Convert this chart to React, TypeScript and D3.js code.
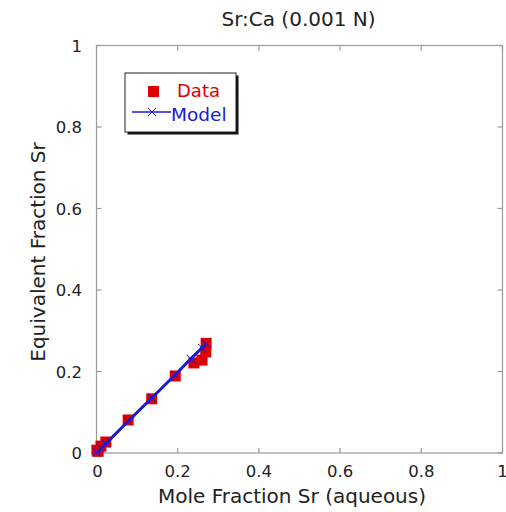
import React from "react";
import * as d3 from "d3";

const dataX = [0.001, 0.004, 0.011, 0.023, 0.078, 0.136, 0.194, 0.24, 0.26, 0.269, 0.27];
const dataY = [0.007, 0.004, 0.017, 0.027, 0.081, 0.133, 0.189, 0.221, 0.228, 0.248, 0.269];
const modelX = [0, 0.011, 0.023, 0.078, 0.136, 0.194, 0.232, 0.26, 0.27];
const modelY = [0.001, 0.011, 0.023, 0.078, 0.135, 0.192, 0.231, 0.258, 0.268];
const ticks = [0, 0.2, 0.4, 0.6, 0.8, 1];
const tickLabels = ["0", "0.2", "0.4", "0.6", "0.8", "1"];
const title = "Sr:Ca (0.001 N)";
const xLabel = "Mole Fraction Sr (aqueous)";
const yLabel = "Equivalent Fraction Sr";
const legendLabels = ["Data", "Model"];

const W = 506;
const H = 512;
const L = 96.5, R = 502.5, T = 45.5, B = 453;
const font = "'DejaVu Sans', sans-serif";
const RED = "#dd0000";
const BLUE = "#1a1ad6";
const FRAME = "#9a9a9a";

export default function App() {
  const x = d3.scaleLinear().domain([0, 1]).range([L, R]);
  const y = d3.scaleLinear().domain([0, 1]).range([B, T]);
  const line = d3
    .line<number>()
    .x((_, i) => x(modelX[i]))
    .y((_, i) => y(modelY[i]));
  const tl = 5;
  const sq = 11;
  return (
    <svg
      width={W}
      height={H}
      style={{ position: "absolute", left: 0, top: 0, background: "#fff" }}
      fontFamily={font}
    >
      <rect x={0} y={0} width={W} height={H} fill="#fff" />
      <text x={298.5} y={26} textAnchor="middle" fontSize={20} fill="#222">
        {title}
      </text>
      {/* frame */}
      <rect x={L} y={T} width={R - L} height={B - T} fill="none" stroke={FRAME} strokeWidth={1.2} />
      {ticks.map((t, i) => (
        <g key={"t" + i}>
          <line x1={x(t)} x2={x(t)} y1={B} y2={B - tl} stroke={FRAME} strokeWidth={1.2} />
          <line x1={x(t)} x2={x(t)} y1={T} y2={T + tl} stroke={FRAME} strokeWidth={1.2} />
          <line x1={L} x2={L + tl} y1={y(t)} y2={y(t)} stroke={FRAME} strokeWidth={1.2} />
          <line x1={R} x2={R - tl} y1={y(t)} y2={y(t)} stroke={FRAME} strokeWidth={1.2} />
          <text x={x(t) + (i === 0 ? 1 : 0)} y={477} textAnchor="middle" fontSize={16.5} fill="#222">
            {tickLabels[i]}
          </text>
          <text x={82} y={y(t) + 6} textAnchor="end" fontSize={16.5} fill="#222">
            {tickLabels[i]}
          </text>
        </g>
      ))}
      <text x={292} y={503} textAnchor="middle" fontSize={20} fill="#222">
        {xLabel}
      </text>
      <text
        transform={`translate(45, 252) rotate(-90)`}
        textAnchor="middle"
        fontSize={20}
        fill="#222"
      >
        {yLabel}
      </text>
      {/* data */}
      {dataX.map((v, i) => (
        <rect
          key={"d" + i}
          x={x(v) - sq / 2}
          y={y(dataY[i]) - sq / 2}
          width={sq}
          height={sq}
          fill={RED}
        />
      ))}
      {/* model */}
      <path d={line(modelX) || ""} fill="none" stroke={BLUE} strokeWidth={3} />
      {modelX.map((v, i) => (
        <g key={"m" + i} stroke={BLUE} strokeWidth={1}>
          <line x1={x(v) - 4} x2={x(v) + 4} y1={y(modelY[i]) - 4} y2={y(modelY[i]) + 4} />
          <line x1={x(v) - 4} x2={x(v) + 4} y1={y(modelY[i]) + 4} y2={y(modelY[i]) - 4} />
        </g>
      ))}
      {/* legend */}
      <rect x={127.5} y={75.5} width={111} height={59} fill="#111" />
      <rect x={125} y={73} width={111} height={59} fill="#fff" stroke="#222" strokeWidth={1} />
      <rect x={148} y={86} width={11} height={11} fill={RED} />
      <text x={177} y={97} fontSize={18} fill={RED}>
        {legendLabels[0]}
      </text>
      <line x1={132} x2={171} y1={112} y2={112} stroke={BLUE} strokeWidth={1.5} />
      <line x1={148} x2={156} y1={108} y2={116} stroke={BLUE} strokeWidth={1} />
      <line x1={148} x2={156} y1={116} y2={108} stroke={BLUE} strokeWidth={1} />
      <text x={171} y={121} fontSize={18.5} fill={BLUE}>
        {legendLabels[1]}
      </text>
    </svg>
  );
}
